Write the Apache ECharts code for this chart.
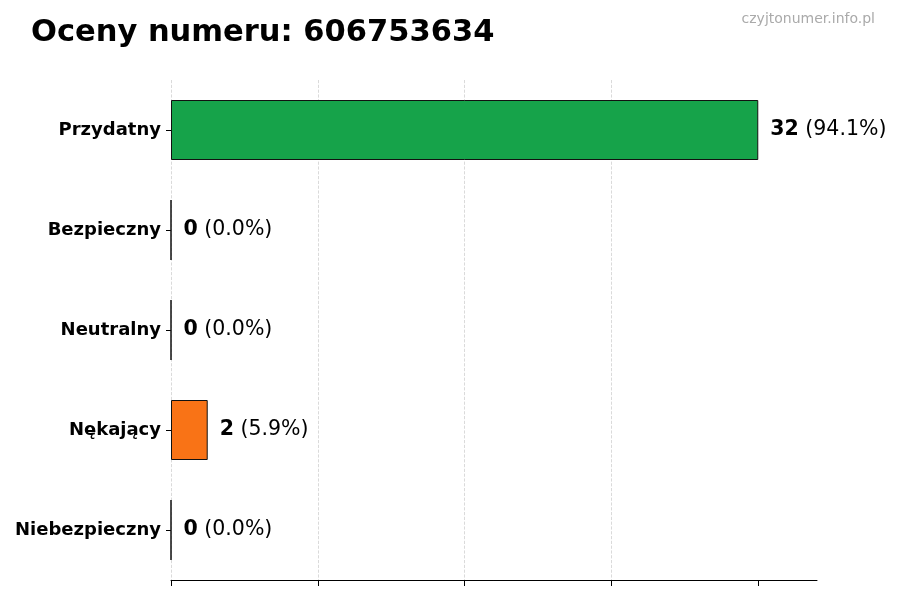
<!DOCTYPE html>
<html lang="pl">
<head>
    <meta charset="UTF-8">
    <title>Oceny numeru</title>
    <script src="https://cdn.jsdelivr.net/npm/echarts@6.0.0/dist/echarts.min.js"></script>
    <style>
        html, body { margin: 0; padding: 0; background: #fff; }
        #main { width: 900px; height: 600px; }
    </style>
</head>
<body>
    <div id="main"></div>
    <script type="text/javascript">
        // data
        var categories = ['Przydatny', 'Bezpieczny', 'Neutralny', 'Nękający', 'Niebezpieczny']
        var counts = [32, 0, 0, 2, 0]
        var barColors = ['#16a34a', '#6b7280', '#9ca3af', '#f97316', '#dc2626']
        var xTicks = [0, 8, 16, 24, 32]

        var total = counts.reduce(function (a, b) { return a + b }, 0)

        var chart = echarts.init(document.getElementById('main'), null, { renderer: 'canvas' })
        var font = 'DejaVu Sans'

        var option = {
            backgroundColor: '#ffffff',
            animation: false,
            title: [
                {
                    text: 'Oceny numeru: 606753634',
                    left: 26,
                    top: 13,
                    textStyle: { fontFamily: font, fontSize: 30.5, fontWeight: 'bold', color: '#000' }
                },
                {
                    text: 'czyjtonumer.info.pl',
                    right: 20,
                    top: 7,
                    textStyle: { fontFamily: font, fontSize: 14, fontWeight: 'normal', color: '#aaaaaa' }
                }
            ],
            grid: {
                left: 171,
                right: 83,
                top: 80,
                height: 500,
                outerBoundsMode: 'none'
            },
            xAxis: {
                type: 'value',
                min: 0,
                max: Math.max.apply(null, counts) * 1.1,
                interval: 8,
                axisLine: { show: true, lineStyle: { color: '#000', width: 1 } },
                axisTick: {
                    show: true,
                    length: 6,
                    customValues: xTicks,
                    lineStyle: { color: '#000', width: 1 }
                },
                axisLabel: { show: false },
                splitLine: {
                    show: true,
                    showMaxLine: false,
                    lineStyle: { color: '#d0d0d0', type: 'dashed', width: 0.8 }
                }
            },
            yAxis: {
                type: 'category',
                inverse: true,
                data: categories,
                axisLine: { show: false },
                axisTick: {
                    show: true,
                    alignWithLabel: true,
                    length: 5,
                    lineStyle: { color: '#000', width: 1 }
                },
                axisLabel: {
                    margin: 10,
                    fontFamily: font,
                    fontSize: 18,
                    fontWeight: 'bold',
                    color: '#000'
                },
                splitLine: { show: false }
            },
            series: [
                {
                    type: 'bar',
                    barWidth: '60%',
                    data: counts.map(function (v, i) {
                        return {
                            value: v,
                            itemStyle: { color: barColors[i] }
                        }
                    }),
                    itemStyle: { borderColor: '#111', borderWidth: 1 },
                    label: {
                        show: true,
                        position: 'right',
                        distance: 12,
                        formatter: function (p) {
                            var pct = total ? (p.value / total * 100).toFixed(1) : '0.0'
                            return '{b|' + p.value + '}{n| (' + pct + '%)}'
                        },
                        rich: {
                            b: { fontFamily: font, fontSize: 20.5, fontWeight: 'bold', color: '#000' },
                            n: { fontFamily: font, fontSize: 20.5, fontWeight: 'normal', color: '#000' }
                        }
                    }
                }
            ]
        }

        chart.setOption(option)
    </script>
</body>
</html>
